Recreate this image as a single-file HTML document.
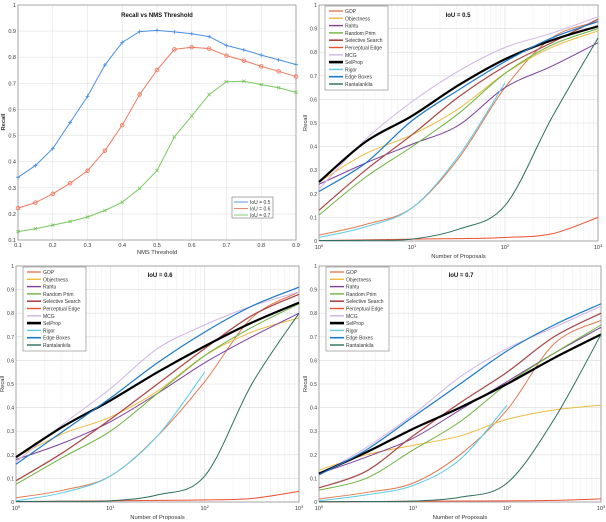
<!DOCTYPE html>
<html><head><meta charset="utf-8"><style>
body{margin:0;background:#fff;}
svg{display:block;font-family:"Liberation Sans",sans-serif;}
</style></head><body>
<svg id="fig" width="606" height="522" viewBox="0 0 606 522"></svg>
<script>
const NS="http://www.w3.org/2000/svg";
const svg=document.getElementById('fig');
// ---- NMS chart data ----
const nmsThresholds=[0.1,0.15,0.2,0.25,0.3,0.35,0.4,0.45,0.5,0.55,0.6,0.65,0.7,0.75,0.8,0.85,0.9];
const nmsIou05=[.34,.385,.45,.55,.65,.77,.857,.898,.903,.897,.89,.879,.845,.828,.808,.79,.772];
const nmsIou06=[.222,.243,.277,.317,.365,.442,.54,.657,.751,.83,.838,.833,.806,.787,.765,.746,.726];
const nmsIou07=[.132,.143,.157,.171,.188,.213,.245,.297,.366,.495,.575,.657,.706,.708,.695,.683,.666];
const nmsXTicks=[0.1,0.2,0.3,0.4,0.5,0.6,0.7,0.8,0.9];
const nmsYTicks=[0.1,0.2,0.3,0.4,0.5,0.6,0.7,0.8,0.9,1];
// ---- proposal chart data: log10(#proposals) sample points ----
const logProposals=[0,0.5,1,1.5,2,2.5,3];
const methods=["GOP","Objectness","Rahtu","Random Prim","Selective Search","Perceptual Edge","MCG","SelProp","Rigor","Edge Boxes","Rantalankila"];
const iou05=[
[.025,.07,.14,.35,.65,.86,.93],[.25,.37,.45,.56,.71,.82,.89],[.24,.33,.41,.49,.65,.74,.84],
[.11,.27,.40,.54,.71,.83,.90],[.13,.30,.45,.61,.74,.84,.94],[.002,.005,.008,.01,.015,.03,.10],
[.22,.43,.59,.72,.82,.88,.95],[.25,.42,.53,.66,.77,.85,.91],[.015,.06,.14,.36,.67],
[.21,.33,.51,.64,.76,.86,.93],[.002,.003,.008,.05,.15,.52,.86]];
const iou06=[
[.018,.05,.11,.28,.51,.78,.89],[.19,.29,.36,.47,.62,.72,.78],[.18,.25,.34,.46,.59,.70,.80],
[.075,.19,.30,.46,.62,.74,.84],[.09,.21,.35,.50,.65,.79,.88],[.002,.003,.005,.007,.009,.015,.045],
[.17,.33,.48,.65,.75,.83,.89],[.19,.32,.43,.55,.66,.76,.845],[.005,.04,.11,.28,.55],
[.16,.30,.44,.59,.72,.83,.91],[.002,.003,.005,.03,.11,.50,.80]];
const iou07=[
[.013,.04,.08,.20,.39,.67,.77],[.135,.20,.24,.28,.35,.39,.41],[.12,.19,.27,.39,.51,.63,.74],
[.05,.10,.22,.34,.50,.63,.75],[.06,.13,.28,.42,.55,.70,.80],[.001,.002,.003,.004,.005,.007,.013],
[.115,.23,.37,.53,.65,.74,.83],[.12,.21,.31,.40,.50,.61,.71],[.005,.03,.07,.18,.41],
[.115,.22,.36,.50,.64,.75,.84],[.001,.002,.004,.02,.08,.35,.71]];
const propYTicks=[0,0.1,0.2,0.3,0.4,0.5,0.6,0.7,0.8,0.9,1];
const colors=["#e07a50","#eebb40","#7e3f9e","#6db33f","#a84545","#f05030","#d0b4e6","#000000","#5ccbea","#1a78c8","#2a6f5f"];
const widths=[1,1,1,1,1.2,1,1,2.2,1,1.2,1];

function el(tag,attrs,parent){const e=document.createElementNS(NS,tag);for(const k in attrs)e.setAttribute(k,attrs[k]);(parent||svg).appendChild(e);return e;}
function smooth(pts){let d=`M${pts[0][0]},${pts[0][1]}`;for(let i=0;i<pts.length-1;i++){const p0=pts[i-1]||pts[i],p1=pts[i],p2=pts[i+1],p3=pts[i+2]||p2;
const c1=[p1[0]+(p2[0]-p0[0])/6,p1[1]+(p2[1]-p0[1])/6],c2=[p2[0]-(p3[0]-p1[0])/6,p2[1]-(p3[1]-p1[1])/6];
d+=` C${c1[0]},${c1[1]} ${c2[0]},${c2[1]} ${p2[0]},${p2[1]}`;}return d;}
function txt(x,y,s,size,opts,parent){const t=el('text',Object.assign({x:x,y:y,'font-size':size,fill:'#333'},opts||{}),parent);t.textContent=s;return t;}

// ---- NMS panel ----
(function(){
const g=el('g',{});


const L=18,R=296,T=5,B=240;
const xs=v=>L+(v-0.1)/0.8*(R-L), ys=v=>B-(v-0.1)/0.9*(B-T);
nmsXTicks.forEach(v=>{el('line',{x1:xs(v),x2:xs(v),y1:T,y2:B,stroke:'#e2e2e2','stroke-width':0.6},g);
 const t=txt(xs(v),B+7,String(v),5.5,{'text-anchor':'middle'},g);});
nmsYTicks.forEach(v=>{el('line',{x1:L,x2:R,y1:ys(v),y2:ys(v),stroke:'#e2e2e2','stroke-width':0.6},g);
 const t=txt(L-2,ys(v)+2,String(v),5.5,{'text-anchor':'end'},g);});
el('rect',{x:L,y:T,width:R-L,height:B-T,fill:'none',stroke:'#888','stroke-width':0.7},g);
const tt=txt(157,17,'Recall vs NMS Threshold',6,{'text-anchor':'middle','font-weight':'bold',fill:'#111'},g);

const xt=txt(157,254,'NMS Threshold',5.8,{'text-anchor':'middle'},g);

const yt=txt(5,122,'Recall',5.8,{'text-anchor':'middle','font-weight':'bold',transform:'rotate(-90 5 122)'},g);

const series=[[nmsIou05,'#4a8fe0','+','IoU = 0.5'],[nmsIou06,'#f07a60','o','IoU = 0.6'],[nmsIou07,'#7ac860','x','IoU = 0.7']];
series.forEach((s,si)=>{
 const pts=nmsThresholds.map((v,i)=>[xs(v),ys(s[0][i])]);
 const p=el('path',{d:'M'+pts.map(p=>p.join(',')).join(' L'),fill:'none',stroke:s[1],'stroke-width':1},g);
 
 pts.forEach(q=>{
  if(s[2]=='o')el('circle',{cx:q[0],cy:q[1],r:1.8,fill:'none',stroke:s[1],'stroke-width':0.9},g);
  else if(s[2]=='+'){el('path',{d:`M${q[0]-2},${q[1]} h4 M${q[0]},${q[1]-2} v4`,stroke:s[1],'stroke-width':0.8},g);}
  else el('path',{d:`M${q[0]-1.6},${q[1]-1.6} l3.2,3.2 M${q[0]-1.6},${q[1]+1.6} l3.2,-3.2`,stroke:s[1],'stroke-width':0.8},g);
 });
});
const lg=el('g',{},g);
el('rect',{x:232,y:197,width:41,height:21,fill:'#fff',stroke:'#555','stroke-width':0.5},lg);
series.forEach((s,i)=>{const y=202+i*6.5;el('line',{x1:234,x2:248,y1:y,y2:y,stroke:s[1],'stroke-width':0.9},lg);
 const t=txt(250,y+2,s[3],5,{},lg);});
})();

// ---- proposal panels ----
function propPanel(name,data,L,R,T,B,title,tx,ty,legX,legY){
const g=el('g',{});


const xs=v=>L+v/3*(R-L), ys=v=>B-v*(B-T);
for(let d=0;d<3;d++)for(let k=2;k<10;k++){const x=xs(d+Math.log10(k));el('line',{x1:x,x2:x,y1:T,y2:B,stroke:'#ececec','stroke-width':0.5},g);}
[0,1,2,3].forEach(d=>{el('line',{x1:xs(d),x2:xs(d),y1:T,y2:B,stroke:'#dcdcdc','stroke-width':0.6},g);
 const t=el('text',{x:xs(d),y:B+8,'font-size':5.5,fill:'#333','text-anchor':'middle'},g);t.innerHTML='10<tspan font-size="4" dy="-2">'+d+'</tspan>';
 });
propYTicks.forEach(v=>{el('line',{x1:L,x2:R,y1:ys(v),y2:ys(v),stroke:'#dcdcdc','stroke-width':0.6},g);
 const t=txt(L-2,ys(v)+2,String(v),5,{'text-anchor':'end'},g);});
el('rect',{x:L,y:T,width:R-L,height:B-T,fill:'none',stroke:'#888','stroke-width':0.7},g);
const xt=txt((L+R)/2,B+17,'Number of Proposals',5.8,{'text-anchor':'middle'},g);

const yx=L-12,yy=(T+B)/2;
const yt=txt(yx,yy,'Recall',5.8,{'text-anchor':'middle',transform:`rotate(-90 ${yx} ${yy})`},g);

data.forEach((vals,mi)=>{
 const pts=vals.map((v,i)=>[xs(logProposals[i]),ys(v)]);
 const p=el('path',{d:smooth(pts),fill:'none',stroke:colors[mi],'stroke-width':widths[mi]},g);
 
});
const tt=txt(tx,ty,title,6,{'text-anchor':'middle','font-weight':'bold',fill:'#111'},g);

const lg=el('g',{},g);
el('rect',{x:legX,y:legY,width:63,height:84,fill:'#fff',stroke:'#666','stroke-width':0.5},lg);
methods.forEach((m,i)=>{const y=legY+5+i*7.3;el('line',{x1:legX+4,x2:legX+18,y1:y,y2:y,stroke:colors[i],'stroke-width':widths[i]+0.4},lg);
 const t=txt(legX+20,y+2,m,5,{},lg);});
}
propPanel('iou-0.5-chart',iou05,319,598,5,241,'IoU = 0.5',458,17,325,6);
propPanel('iou-0.6-chart',iou06,16,299,266,502,'IoU = 0.6',160,277,23,267);
propPanel('iou-0.7-chart',iou07,319,601,266,502,'IoU = 0.7',461,277,326,267);
</script>
</body></html>
